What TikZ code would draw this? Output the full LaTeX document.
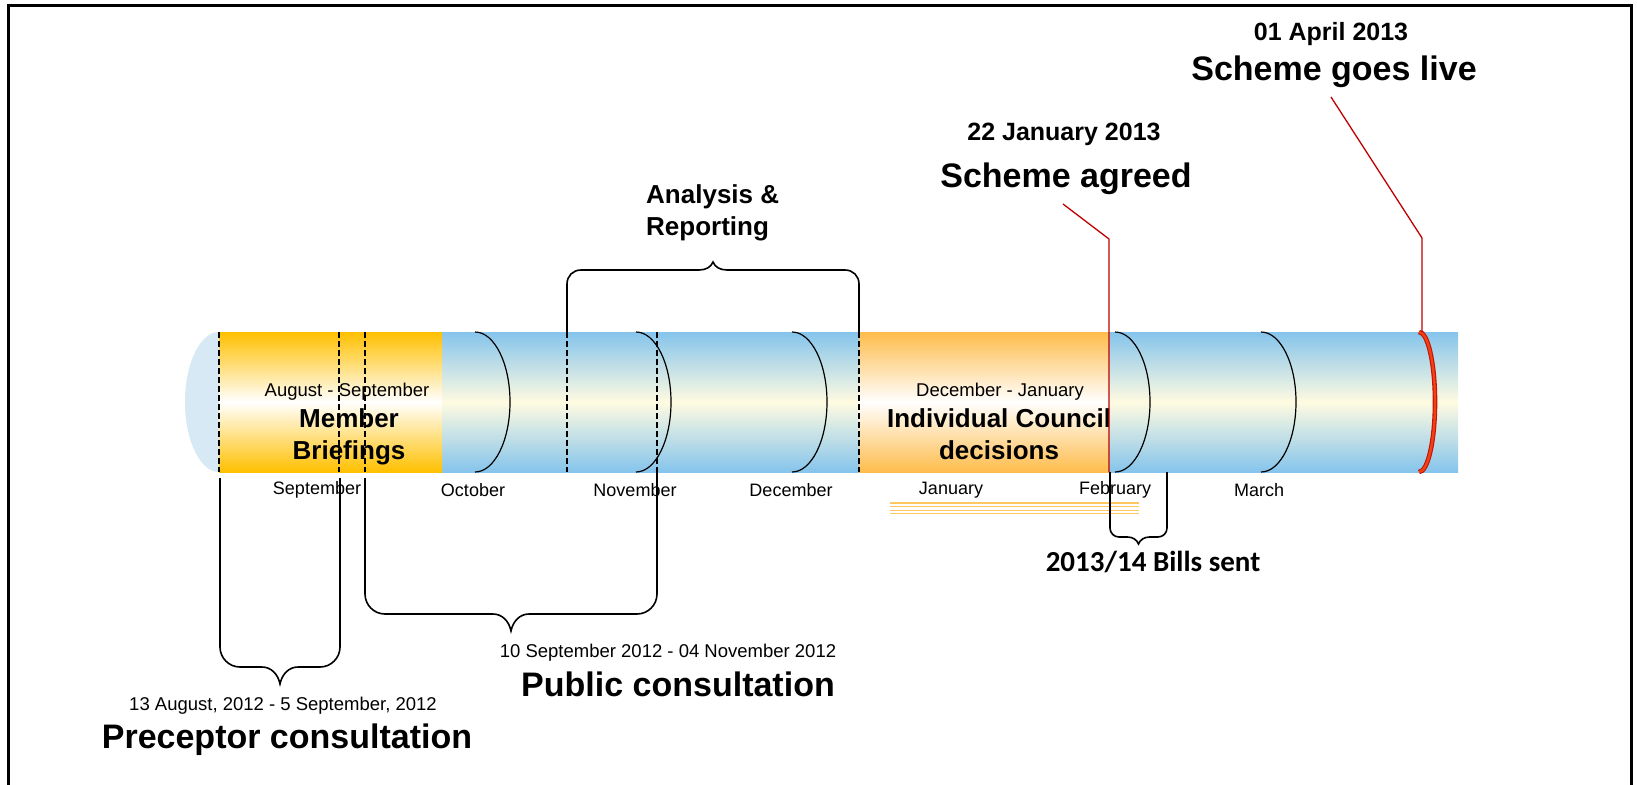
\documentclass[tikz,border=0pt]{standalone}
\usepackage{fontspec}
\setmainfont{Liberation Sans}
\newfontfamily\billsfont{Carlito}
\definecolor{barblue}{RGB}{133,196,236}
\definecolor{barcream}{RGB}{255,251,225}
\definecolor{capblue}{RGB}{214,233,245}
\definecolor{phaseA}{RGB}{255,192,0}
\definecolor{phaseB}{RGB}{254,188,76}
\definecolor{leadred}{RGB}{192,0,0}
\definecolor{ringred}{RGB}{244,64,16}
\definecolor{ringedge}{RGB}{190,20,10}
\definecolor{stripe}{RGB}{255,199,95}
\begin{document}
\begin{tikzpicture}[x=1pt,y=-1pt,
  month/.style={font=\fontsize{18}{20}\selectfont, inner sep=0pt},
  span/.style={font=\fontsize{18.5}{21}\selectfont, inner sep=0pt},
  phase/.style={font=\fontsize{26}{32}\selectfont\bfseries, align=center, inner sep=0pt},
  milestone/.style={font=\fontsize{34}{40}\selectfont\bfseries, inner sep=0pt},
  datebold/.style={font=\fontsize{25}{30}\selectfont\bfseries, inner sep=0pt},
  brace/.style={draw=black, line width=1.6pt},
  divider/.style={draw=black, line width=1.8pt, dash pattern=on 6pt off 3pt},
  fold/.style={draw=black, line width=1.2pt},
  redlead/.style={draw=leadred, line width=1.3pt},
]
\useasboundingbox (0,0) rectangle (1637,784);
\fill[white] (0,0) rectangle (1637,784);
\draw[line width=2.5pt] (8.5,790) -- (8.5,5.5) -- (1631.5,5.5) -- (1631.5,790);

% timeline bar with rounded left cap
\fill[capblue] (219,332) arc[start angle=-90,end angle=-270,x radius=34,y radius=70];
\path[top color=barblue,bottom color=barblue,middle color=barcream] (219,332) rectangle (1458,472);

% month folds
\foreach \fx in {475,636,792,1115,1261}
  \draw[fold] (\fx,332) arc[start angle=-90,end angle=90,x radius=35,y radius=70];

% highlighted phases
\path[top color=phaseA,bottom color=phaseA,middle color=white] (219,332) rectangle (442,472);
\path[top color=phaseB,bottom color=phaseB,middle color=white] (859,332) rectangle (1109,472);

% go-live ring
\draw[line width=4.6pt, ringedge] (1419,332) arc[start angle=-90,end angle=90,x radius=16,y radius=70];
\draw[line width=2.4pt, ringred] (1419,332) arc[start angle=-90,end angle=90,x radius=16,y radius=70];

% phase labels
\node[span] (augsep) at (347,392) {August - September};
\node[phase] (member) at (349,437) {Member\\Briefings};
\node[span] (decjan) at (1000,392) {December - January};
\node[phase] (council) at (999,434) {Individual Council\\decisions};

% dashed dividers
\foreach \dx in {219,339,365,567,657,859}
  \draw[divider] (\dx,332) -- (\dx,472);

% months
\node[month] (sep) at (317,490) {September};
\node[month] (oct) at (473,490) {October};
\node[month] (nov) at (635,490) {November};
\node[month] (dec) at (791,490) {December};
\node[month] (jan) at (951,490) {January};
\node[month] (feb) at (1115,490) {February};
\node[month] (mar) at (1259,490) {March};

% stripes under January
\draw[stripe, line width=2pt] (890,503) -- (1139,503);
\foreach \sy in {506.8,510.2,513.5}
  \draw[stripe, line width=1.3pt] (890,\sy) -- (1139,\sy);

% analysis & reporting brace
\node[phase, align=left, anchor=west] (analysis) at (646,213) {Analysis \&\\Reporting};
\draw[brace] (567,332) -- (567,284) .. controls (567,276) and (573,270) .. (581,270)
  -- (699,270) .. controls (706,270) and (711,267) .. (713,262)
  .. controls (715,267) and (720,270) .. (727,270)
  -- (845,270) .. controls (853,270) and (859,276) .. (859,284) -- (859,332);

% preceptor consultation brace
\draw[brace] (220,478) -- (220,647) .. controls (220,658) and (229,667) .. (240,667)
  -- (262,667) .. controls (271,667) and (278,674) .. (280,684)
  .. controls (282,674) and (289,667) .. (298,667)
  -- (320,667) .. controls (331,667) and (340,658) .. (340,647) -- (340,478);
\node[span] (precdate) at (283,706) {13 August, 2012 - 5 September, 2012};
\node[milestone] (prec) at (287,740) {Preceptor consultation};

% public consultation brace
\draw[brace] (365,478) -- (365,594) .. controls (365,605) and (374,614) .. (385,614)
  -- (493,614) .. controls (502,614) and (509,621) .. (511,631)
  .. controls (513,621) and (520,614) .. (529,614)
  -- (637,614) .. controls (648,614) and (657,605) .. (657,594) -- (657,472);
\node[span] (pubdate) at (668,653) {10 September 2012 - 04 November 2012};
\node[milestone] (pub) at (678,684) {Public consultation};

% bills brace
\draw[brace] (1110,472) -- (1110,528) .. controls (1110,533) and (1114,537) .. (1119,537)
  -- (1127.5,537) .. controls (1133,537) and (1137,540) .. (1138.5,544)
  .. controls (1140,540) and (1144,537) .. (1149.5,537)
  -- (1158,537) .. controls (1163,537) and (1167,533) .. (1167,528) -- (1167,472);
\node[font=\billsfont\fontsize{29}{33}\selectfont\bfseries, inner sep=0pt] (bills) at (1153,562) {2013/14 Bills sent};

% milestones
\node[datebold] (agreeddate) at (1064,134) {22 January 2013};
\node[milestone] (agreed) at (1066,179) {Scheme agreed};
\coordinate (agreedfoot) at (1063,204);
\coordinate (agreedknee) at (1109,239);
\coordinate (agreedbar) at (1109,472);
\draw[redlead] (agreedfoot) -- (agreedknee) -- (agreedbar);

\node[datebold] (livedate) at (1331,34) {01 April 2013};
\node[milestone] (live) at (1334,72) {Scheme goes live};
\coordinate (livefoot) at (1331,97);
\coordinate (liveknee) at (1422,238);
\coordinate (livebar) at (1422,332);
\draw[redlead] (livefoot) -- (liveknee) -- (livebar);
\end{tikzpicture}
\end{document}
